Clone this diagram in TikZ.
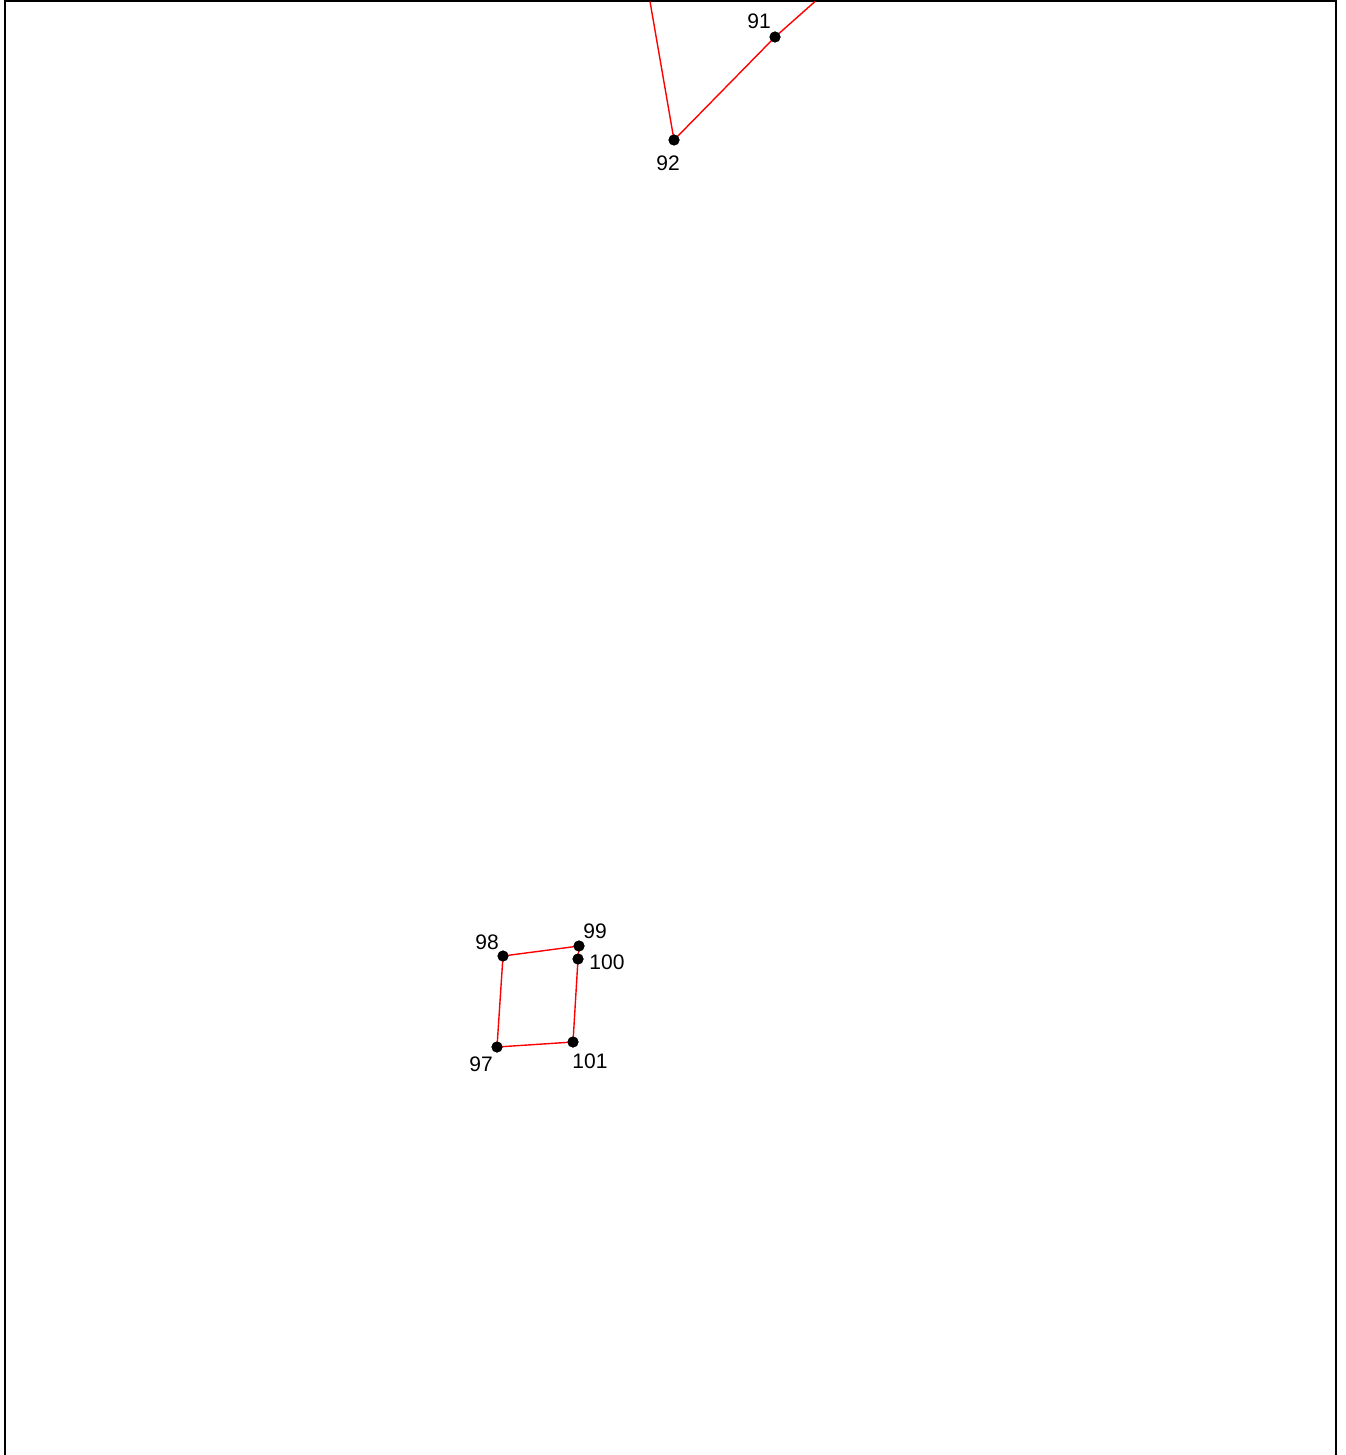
\documentclass[tikz,border=0pt]{standalone}
\usepackage{fontspec}
\setmainfont{Liberation Sans}
\begin{document}
\begin{tikzpicture}[x=0.5pt,y=-0.5pt,
  pt/.style={circle,fill=black,inner sep=0pt,minimum size=5.5pt},
  lab/.style={inner sep=0pt,font=\fontsize{10.5}{12}\selectfont},
  edge/.style={red,line width=0.7pt},
  frame/.style={black,line width=1pt}]
\useasboundingbox (0,0) rectangle (1345,1455);
\clip (0,0) rectangle (1345,1455);
\draw[frame] (5,1470) -- (5,1.5) -- (1336,1.5) -- (1336,1470);
% points
\coordinate (t1) at (650,1.5);
\coordinate (t2) at (815,1.5);
\node[pt] (p91) at (775,37) {};
\node[pt] (p92) at (674,140) {};
\node[pt] (p97) at (497,1047) {};
\node[pt] (p98) at (503,956) {};
\node[pt] (p99) at (579,946) {};
\node[pt] (p100) at (578,959) {};
\node[pt] (p101) at (573,1042) {};
% edges
\begin{scope}[on background layer/.try]
\end{scope}
\draw[edge] (t1) -- (p92.center) -- (p91.center) -- (t2);
\draw[edge] (p97.center) -- (p98.center) -- (p99.center) -- (p100.center) -- (p101.center) -- cycle;
% redraw dots on top
\foreach \n in {p91,p92,p97,p98,p99,p100,p101} \fill (\n) circle[radius=5.5];
% labels
\node[lab] (l91) at (759,21) {91};
\node[lab] (l92) at (668,163) {92};
\node[lab] (l98) at (487,942) {98};
\node[lab] (l99) at (595,931) {99};
\node[lab] (l100) at (607,962) {100};
\node[lab] (l97) at (481,1064) {97};
\node[lab] (l101) at (590,1061) {101};
\end{tikzpicture}
\end{document}
